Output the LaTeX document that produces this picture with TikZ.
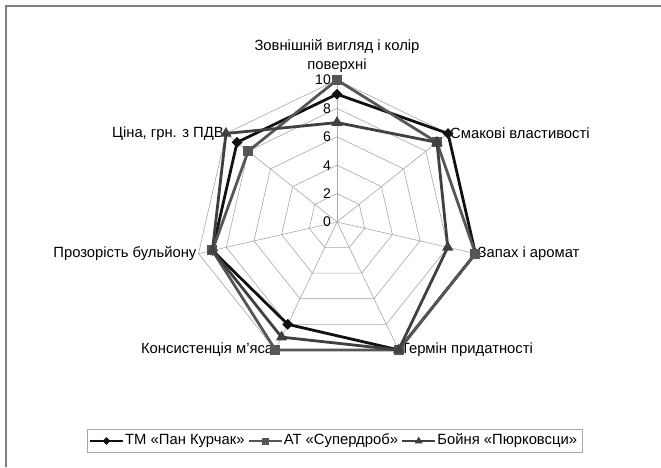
\documentclass[tikz,border=0pt]{standalone}
\usepackage{fontspec}
\setmainfont{Liberation Sans}
\usepackage{tikz}
\usetikzlibrary{shapes.geometric, positioning, fit, calc}
\definecolor{SeriesBlack}{HTML}{111111}
\definecolor{SeriesGray}{HTML}{565656}
\definecolor{SeriesDark}{HTML}{404040}
\definecolor{GridGray}{HTML}{A8A8A8}
\definecolor{FrameGray}{HTML}{808080}
\newcommand{\radunit}{14.2pt}
\tikzset{
  % Web styles
  gridline/.style={draw=GridGray, line width=0.6pt},
  ticklabel/.style={anchor=east, inner sep=1pt, font=\fontsize{14}{15}\selectfont},
  axislabel/.style={inner sep=2pt, font=\fontsize{14.8}{19}\selectfont, align=center},
  % Series styles
  serieskur/.style={draw=SeriesBlack, line width=2.8pt, line join=round},
  seriessup/.style={draw=SeriesGray, line width=2.8pt, line join=round},
  seriespur/.style={draw=SeriesDark, line width=2.8pt, line join=round},
  % Marker styles
  diamondmark/.style={diamond, fill=SeriesBlack, inner sep=0pt, minimum size=11pt},
  squaremark/.style={rectangle, fill=SeriesGray, inner sep=0pt, minimum size=10pt},
  trianglemark/.style={regular polygon, regular polygon sides=3, fill=SeriesDark, inner sep=0pt, minimum size=13pt},
  legendtext/.style={inner sep=2pt, font=\fontsize{14.8}{15}\selectfont}
}

\begin{document}
\begin{tikzpicture}[x=1pt, y=1pt]
  \useasboundingbox (0,0) rectangle (661,467);
  % Chart frame (top and left edges)
  \draw[FrameGray, line width=1.6pt] (6,0) -- (6,461) -- (661,461);

  \begin{scope}[shift={(337,245)}]
    % Spokes and rings
    \foreach \k in {0,...,6}
      \draw[gridline] (0,0) -- (90-\k*51.4286:10*\radunit);
    \foreach \r in {2,4,6,8,10}
      \draw[gridline] (90:\r*\radunit) \foreach \k in {1,...,6} {-- (90-\k*51.4286:\r*\radunit)} -- cycle;

    % Value scale
    \foreach \r in {0,2,...,10}
      \node[ticklabel] (tick\r) at (-5,\r*\radunit) {\r};

    % Axis labels
    \node[axislabel, anchor=south] (ax1) at (90:10*\radunit+5pt) {Зовнішній вигляд і колір\\поверхні};
    \node[axislabel, anchor=west] (ax2) at (38.571:10*\radunit) {Смакові властивості};
    \node[axislabel, anchor=west] (ax3) at (-12.857:10*\radunit) {Запах і аромат};
    \node[axislabel, anchor=west] (ax4) at (-64.286:10*\radunit) {Термін придатності};
    \node[axislabel, anchor=east] (ax5) at (-115.714:10*\radunit) {Консистенція м'яса};
    \node[axislabel, anchor=east] (ax6) at (-167.143:10*\radunit) {Прозорість бульйону};
    \node[axislabel, anchor=east] (ax7) at (141.429:10*\radunit) {Ціна, грн. з ПДВ};

    % Data points
    \foreach \v [count=\k] in {9,10,10,10,8,9,9}
      \coordinate (kur\k) at (141.4286-\k*51.4286:\v*\radunit);
    \foreach \v [count=\k] in {10,9,10,10,10,9,8}
      \coordinate (sup\k) at (141.4286-\k*51.4286:\v*\radunit);
    \foreach \v [count=\k] in {7,9,8,10,9,9,10}
      \coordinate (pur\k) at (141.4286-\k*51.4286:\v*\radunit);

    % Series
    \draw[serieskur] (kur1) -- (kur2) -- (kur3) -- (kur4) -- (kur5) -- (kur6) -- (kur7) -- cycle;
    \foreach \k in {1,...,7}
      \node[diamondmark] (kurm\k) at (kur\k) {};
    \draw[seriessup] (sup1) -- (sup2) -- (sup3) -- (sup4) -- (sup5) -- (sup6) -- (sup7) -- cycle;
    \foreach \k in {1,...,7}
      \node[squaremark] (supm\k) at (sup\k) {};
    \draw[seriespur] (pur1) -- (pur2) -- (pur3) -- (pur4) -- (pur5) -- (pur6) -- (pur7) -- cycle;
    \foreach \k in {1,...,7}
      \node[trianglemark] (purm\k) at (pur\k) {};
  \end{scope}

  % Legend
  \coordinate (la1) at (90,26);
  \coordinate (lb1) at (123,26);
  \draw[serieskur] (la1) -- (lb1);
  \node[diamondmark, minimum size=8pt] (lm1) at ($(la1)!0.5!(lb1)$) {};
  \node[legendtext, right=0pt of lb1] (lt1) {ТМ «Пан Курчак»};

  \coordinate[right=2pt of lt1] (la2);
  \coordinate[right=33pt of la2] (lb2);
  \draw[seriessup] (la2) -- (lb2);
  \node[squaremark, minimum size=7pt] (lm2) at ($(la2)!0.5!(lb2)$) {};
  \node[legendtext, right=0pt of lb2] (lt2) {АТ «Супердроб»};

  \coordinate[right=2pt of lt2] (la3);
  \coordinate[right=33pt of la3] (lb3);
  \draw[seriespur] (la3) -- (lb3);
  \node[trianglemark, minimum size=9pt] (lm3) at ($(la3)!0.5!(lb3)$) {};
  \node[legendtext, right=0pt of lb3] (lt3) {Бойня «Пюрковсци»};

  \node[draw=GridGray, line width=0.8pt, fit=(la1)(lt1)(lt3), inner xsep=3pt, inner ysep=2pt] (legbox) {};
\end{tikzpicture}
\end{document}
